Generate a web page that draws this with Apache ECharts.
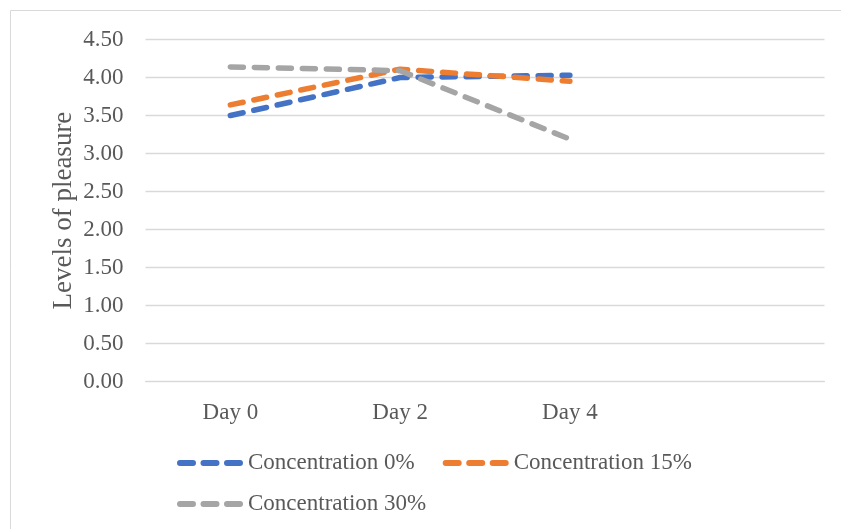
<!DOCTYPE html>
<html>
<head>
<meta charset="utf-8">
<script src="https://cdn.jsdelivr.net/npm/echarts@6/dist/echarts.min.js"></script>
<style>
  html, body { margin: 0; padding: 0; background: #fff; }
  #chart { width: 841px; height: 529px; }
</style>
</head>
<body>
<div id="chart"></div>
<script>
const categories = ['Day 0', 'Day 2', 'Day 4', ''];
const seriesNames = ['Concentration 0%', 'Concentration 15%', 'Concentration 30%'];
const conc0 = [3.50, 4.00, 4.03];
const conc15 = [3.64, 4.11, 3.95];
const conc30 = [4.14, 4.09, 3.19];
const yTicks = { min: 0, max: 4.5, interval: 0.5 };
const colors = ['#4472C4', '#ED7D31', '#A5A5A5'];

const FONT = 'Liberation Serif';
const TXT = '#595959';
const dashIcon = 'path://M3,0 H16 A3,3 0 0 1 16,6 H3 A3,3 0 0 1 3,0 Z M26.5,0 H39.5 A3,3 0 0 1 39.5,6 H26.5 A3,3 0 0 1 26.5,0 Z M50,0 H63 A3,3 0 0 1 63,6 H50 A3,3 0 0 1 50,0 Z';

function mkSeries(name, data, color) {
  return {
    name: name,
    type: 'line',
    data: data,
    symbol: 'none',
    color: color,
    itemStyle: { color: color },
    lineStyle: { color: color, width: 5.5, type: [13, 11], cap: 'round' },
    animation: false
  };
}

const legendCommon = {
  icon: dashIcon,
  itemWidth: 66,
  itemHeight: 6,
  itemGap: 28,
  itemStyle: { borderWidth: 0 },
  textStyle: { fontFamily: FONT, fontSize: 23, color: TXT, lineHeight: 26 },
  selectedMode: false
};

const chart = echarts.init(document.getElementById('chart'));
chart.setOption({
  backgroundColor: '#fff',
  animation: false,
  graphic: [{
    type: 'rect',
    shape: { x: 10.5, y: 10.5, width: 840, height: 540 },
    style: { fill: 'none', stroke: '#D9D9D9', lineWidth: 1 },
    silent: true
  }],
  grid: { left: 145.5, right: 16.5, top: 39.5, bottom: 147.3, containLabel: false },
  legend: [
    Object.assign({ left: 172, top: 445, data: [seriesNames[0], seriesNames[1]] }, legendCommon),
    Object.assign({ left: 172, top: 486, data: [seriesNames[2]] }, legendCommon)
  ],
  xAxis: {
    type: 'category',
    data: categories,
    boundaryGap: true,
    axisLine: { show: true, lineStyle: { color: '#D9D9D9', width: 1 } },
    axisTick: { show: false },
    axisLabel: { fontFamily: FONT, fontSize: 23, color: TXT, margin: 20 },
    splitLine: { show: false }
  },
  yAxis: {
    type: 'value',
    min: yTicks.min,
    max: yTicks.max,
    interval: yTicks.interval,
    name: 'Levels of pleasure',
    nameLocation: 'middle',
    nameGap: 68,
    nameMoveOverlap: false,
    nameTextStyle: { fontFamily: FONT, fontSize: 27, color: TXT },
    axisLine: { show: false },
    axisTick: { show: false },
    axisLabel: { fontFamily: FONT, fontSize: 23, color: TXT, margin: 22, formatter: v => v.toFixed(2) },
    splitLine: { show: true, lineStyle: { color: '#D9D9D9', width: 1.3 } }
  },
  series: [
    mkSeries(seriesNames[0], conc0, colors[0]),
    mkSeries(seriesNames[1], conc15, colors[1]),
    mkSeries(seriesNames[2], conc30, colors[2])
  ]
});
</script>
</body>
</html>
